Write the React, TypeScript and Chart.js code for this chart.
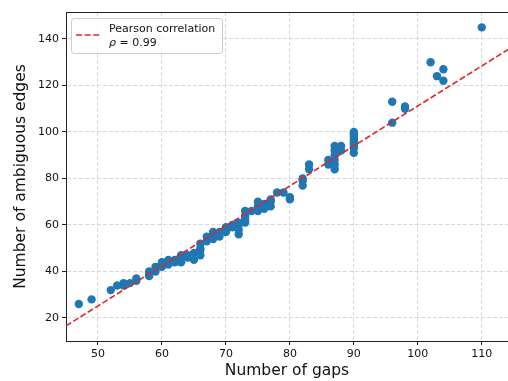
import React, { useEffect, useRef } from "react";
import { Chart, registerables } from "chart.js";

Chart.register(...registerables);

// number of gaps (x) and number of ambiguous edges (y)
const gaps = [
  47, 49, 52, 53, 54, 54, 55, 56, 56, 58, 58, 58, 59, 59, 60, 60, 61, 61, 62, 62,
  63, 63, 63, 64, 64, 65, 65, 66, 66, 66, 66, 67, 67, 68, 68, 68, 69, 69, 70, 70,
  70, 71, 71, 72, 72, 72, 72, 73, 73, 73, 73, 73, 74, 75, 75, 75, 76, 76, 76, 77,
  77, 77, 78, 79, 80, 80, 82, 82, 82, 83, 83, 86, 86, 87, 87, 87, 87, 87, 87, 88,
  88, 90, 90, 90, 90, 90, 90, 90, 90, 90, 96, 96, 98, 98, 102, 103, 104, 104, 110,
];
const edges = [
  26, 28, 32, 34, 34, 35, 35, 36, 37, 38, 39, 40, 40, 42, 42, 44, 43, 45, 44, 45,
  44, 46, 47, 46, 47, 45, 48, 47, 49, 50, 52, 53, 55, 54, 56, 57, 55, 57, 57, 58,
  59, 59, 60, 56, 58, 60, 61, 61, 62, 63, 64, 66, 66, 66, 68, 70, 67, 68, 69, 68,
  70, 71, 74, 74, 71, 72, 77, 79, 80, 84, 86, 86, 88, 84, 86, 88, 90, 92, 94, 92,
  94, 91, 93, 94, 95, 96, 97, 98, 99, 100, 104, 113, 110, 111, 130, 124, 122, 127, 145,
];

// fitted line
const fitSlope = 1.72;
const fitIntercept = -60.8;
const legendLines = ["Pearson correlation", "= 0.99"];
const legendSymbol = "ρ";

const xTicks = [50, 60, 70, 80, 90, 100, 110];
const yTicks = [20, 40, 60, 80, 100, 120, 140];
const xRange = [45, 114.1];
const yRange = [10.1, 151.6];

const xTitle = "Number of gaps";
const yTitle = "Number of ambiguous edges";

const FONT = "'DejaVu Sans', sans-serif";
const LINE_COLOR = "#e02828";
const POINT_COLOR = "#1f77b4";

export default function App() {
  const ref = useRef<HTMLCanvasElement | null>(null);

  useEffect(() => {
    const canvas = ref.current;
    if (!canvas) return;

    const points = gaps.map((g, i) => ({ x: g, y: edges[i] }));
    const fitLine = xRange.map((x) => ({ x, y: fitSlope * x + fitIntercept }));

    const extras = {
      id: "extras",
      afterDatasetsDraw(chart: any) {
        const { ctx, chartArea } = chart;
        ctx.save();
        // top spine
        ctx.strokeStyle = "#222";
        ctx.lineWidth = 1;
        ctx.beginPath();
        ctx.moveTo(chartArea.left, chartArea.top + 0.5);
        ctx.lineTo(chartArea.right, chartArea.top + 0.5);
        ctx.stroke();

        // legend
        const bx = 71.5, by = 18.5, bw = 151, bh = 35;
        ctx.beginPath();
        ctx.roundRect(bx, by, bw, bh, 3);
        ctx.fillStyle = "rgba(255,255,255,0.8)";
        ctx.fill();
        ctx.strokeStyle = "#cccccc";
        ctx.lineWidth = 1;
        ctx.stroke();

        ctx.strokeStyle = LINE_COLOR;
        ctx.lineWidth = 1.65;
        ctx.setLineDash([6, 2.6]);
        ctx.beginPath();
        ctx.moveTo(76, 35);
        ctx.lineTo(100, 35);
        ctx.stroke();
        ctx.setLineDash([]);

        ctx.fillStyle = "#111";
        ctx.textBaseline = "alphabetic";
        ctx.textAlign = "left";
        ctx.font = `11px ${FONT}`;
        ctx.fillText(legendLines[0], 109, 32);
        ctx.font = `italic 11px ${FONT}`;
        ctx.fillText(legendSymbol, 109, 46);
        const w = ctx.measureText(legendSymbol).width;
        ctx.font = `11px ${FONT}`;
        ctx.fillText(" " + legendLines[1], 109 + w, 46);
        ctx.restore();
      },
    };

    const chart = new Chart(canvas, {
      type: "scatter",
      data: {
        datasets: [
          {
            type: "line",
            data: fitLine,
            borderColor: LINE_COLOR,
            borderWidth: 1.65,
            borderDash: [6, 2.6],
            pointRadius: 0,
            fill: false,
            order: 0,
          } as any,
          {
            data: points,
            backgroundColor: POINT_COLOR,
            borderWidth: 0,
            pointRadius: 4.2,
            order: 1,
          },
        ],
      },
      options: {
        responsive: false,
        animation: false,
        devicePixelRatio: 1,
        layout: { padding: { top: 12, left: 0, right: 0, bottom: 0 }, autoPadding: false },
        plugins: { legend: { display: false }, tooltip: { enabled: false } },
        scales: {
          x: {
            type: "linear",
            min: xRange[0],
            max: xRange[1],
            afterBuildTicks: (s: any) => {
              s.ticks = xTicks.map((v) => ({ value: v }));
            },
            afterFit: (s: any) => {
              s.height = 40;
            },
            ticks: {
              font: { family: FONT, size: 11 },
              color: "#111",
              padding: 3,
              maxRotation: 0,
              autoSkip: false,
            },
            grid: {
              color: "#d9d9d9",
              lineWidth: 1,
              tickLength: 4,
              tickColor: "#222",
              tickBorderDash: [],
            } as any,
            border: { color: "#222", width: 1, dash: [4, 2] } as any,
            title: {
              display: true,
              text: xTitle,
              font: { family: FONT, size: 15.5 },
              color: "#111",
              padding: { top: 0, bottom: 1 },
            },
          },
          y: {
            type: "linear",
            min: yRange[0],
            max: yRange[1],
            afterBuildTicks: (s: any) => {
              s.ticks = yTicks.map((v) => ({ value: v }));
            },
            afterFit: (s: any) => {
              s.width = 66;
            },
            ticks: {
              font: { family: FONT, size: 11 },
              color: "#111",
              padding: 3,
              autoSkip: false,
            },
            grid: {
              color: "#d9d9d9",
              lineWidth: 1,
              tickLength: 4,
              tickColor: "#222",
              tickBorderDash: [],
            } as any,
            border: { color: "#222", width: 1, dash: [4, 2] } as any,
            title: {
              display: true,
              text: yTitle,
              font: { family: FONT, size: 15.5 },
              color: "#111",
              padding: { top: 11.7, bottom: 0 },
            },
          },
        },
      },
      plugins: [extras],
    });

    return () => chart.destroy();
  }, []);

  return (
    <div style={{ position: "fixed", left: 0, top: 0, width: 508, height: 381, background: "#fff" }}>
      <canvas ref={ref} width={508} height={381} style={{ display: "block" }} />
    </div>
  );
}
